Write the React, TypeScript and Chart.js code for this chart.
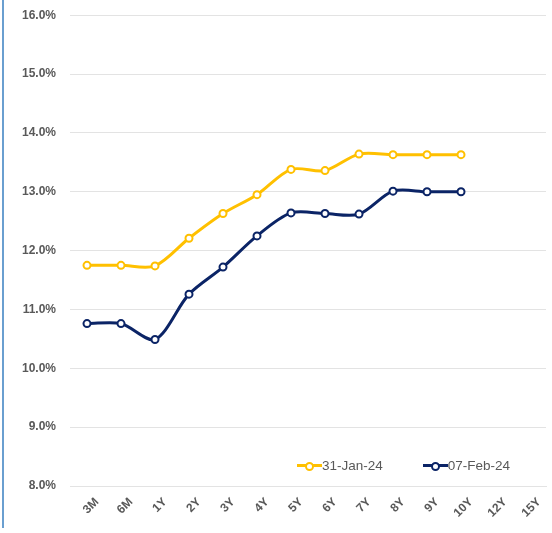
import React, { useEffect, useRef } from "react";
import { Chart, registerables } from "chart.js";

Chart.register(...registerables);

const categories = ["3M", "6M", "1Y", "2Y", "3Y", "4Y", "5Y", "6Y", "7Y", "8Y", "9Y", "10Y", "12Y", "15Y"];
const seriesJanLabel = "31-Jan-24";
const seriesFebLabel = "07-Feb-24";
const seriesJan = [11.75, 11.75, 11.74, 12.21, 12.63, 12.95, 13.38, 13.36, 13.64, 13.63, 13.63, 13.63, null, null];
const seriesFeb = [10.76, 10.76, 10.49, 11.26, 11.72, 12.25, 12.64, 12.63, 12.62, 13.01, 13.0, 13.0, null, null];
const yTicks = { min: 8, max: 16, step: 1 };

const YELLOW = "#FFC000";
const NAVY = "#0B2466";
const TEXT = "#595959";
const GRID = "#E3E3E3";
const FONT = "'Liberation Sans', Arial, sans-serif";

function LegendItem({ color, label, gap }: { color: string; label: string; gap: number }) {
  return (
    <div style={{ display: "flex", alignItems: "center", marginRight: gap }}>
      <div style={{ position: "relative", width: 25, height: 10 }}>
        <div style={{ position: "absolute", left: 0, right: 0, top: 3.5, height: 3, background: color }} />
        <div
          style={{
            position: "absolute",
            left: 8,
            top: 1,
            width: 5,
            height: 5,
            borderRadius: "50%",
            border: `2px solid ${color}`,
            background: "#fff",
          }}
        />
      </div>
      <span style={{ fontFamily: FONT, fontSize: 13.5, color: TEXT }}>{label}</span>
    </div>
  );
}

export default function App() {
  const ref = useRef<HTMLCanvasElement | null>(null);

  useEffect(() => {
    document.body.style.margin = "0";
    const ctx = ref.current!;
    const chart = new Chart(ctx, {
      type: "line",
      data: {
        labels: categories,
        datasets: [
          {
            label: seriesJanLabel,
            data: seriesJan,
            borderColor: YELLOW,
            backgroundColor: "#ffffff",
            borderWidth: 3,
            pointRadius: 3.5,
            pointBorderWidth: 2,
            pointBackgroundColor: "#ffffff",
            pointBorderColor: YELLOW,
            tension: 0.3,
          },
          {
            label: seriesFebLabel,
            data: seriesFeb,
            borderColor: NAVY,
            backgroundColor: "#ffffff",
            borderWidth: 3,
            pointRadius: 3.5,
            pointBorderWidth: 2,
            pointBackgroundColor: "#ffffff",
            pointBorderColor: NAVY,
            tension: 0.3,
          },
        ],
      },
      options: {
        animation: false,
        responsive: false,
        maintainAspectRatio: false,
        layout: { padding: { top: 4, right: 1, left: 0, bottom: 0 } },
        plugins: { legend: { display: false }, tooltip: { enabled: false } },
        scales: {
          x: {
            offset: true,
            grid: { display: false, drawTicks: false },
            border: { display: true, color: GRID, width: 1 },
            ticks: {
              minRotation: 45,
              maxRotation: 45,
              color: TEXT,
              font: { family: FONT, size: 12, weight: "bold" },
              padding: 9,
              labelOffset: 10,
            },
            afterFit: (scale: any) => {
              scale.height = 47;
            },
          },
          y: {
            min: yTicks.min,
            max: yTicks.max,
            grid: { color: GRID, drawTicks: false, lineWidth: 1 },
            border: { display: false },
            ticks: {
              stepSize: yTicks.step,
              color: TEXT,
              font: { family: FONT, size: 12, weight: "bold" },
              padding: 14,
              callback: (v: any) => Number(v).toFixed(1) + "%",
            },
            afterFit: (scale: any) => {
              scale.width = 70;
            },
          },
        },
      },
    });
    return () => chart.destroy();
  }, []);

  return (
    <div style={{ position: "absolute", left: 0, top: 0, width: 552, height: 533, background: "#fff", overflow: "hidden" }}>
      <div style={{ position: "absolute", left: 2, top: 0, width: 2, height: 528, background: "#6A9FD0" }} />
      <canvas ref={ref} width={552} height={539} style={{ position: "absolute", left: 0, top: -6 }} />
      <div style={{ position: "absolute", left: 297, top: 458, display: "flex" }}>
        <LegendItem color={YELLOW} label={seriesJanLabel} gap={40} />
        <LegendItem color={NAVY} label={seriesFebLabel} gap={0} />
      </div>
    </div>
  );
}
